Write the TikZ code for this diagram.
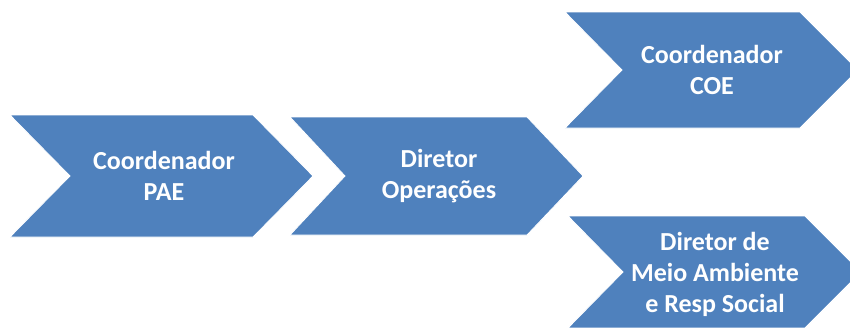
\documentclass[tikz,border=0pt]{standalone}
\usepackage{fontspec}
\setmainfont{Carlito}
\definecolor{chevblue}{HTML}{4F81BD}
\begin{document}
\begin{tikzpicture}[x=1pt,y=-1pt,
  chevfill/.style={fill=chevblue,draw=white,line width=0.8pt,line join=miter},
  chevtext/.style={text=white,font=\bfseries\fontsize{26}{31}\selectfont,align=center,inner sep=0pt}]
\useasboundingbox (0,0) rectangle (850,327);
\begin{scope}
\clip (0,0) rectangle (850,327);
\fill[chevfill] (10,115) -- (253,115) -- (313,176) -- (253,237) -- (10,237) -- (70,176) -- cycle;
\fill[chevfill] (290,117) -- (527,117) -- (583,176) -- (527,235) -- (290,235) -- (345,176) -- cycle;
\fill[chevfill] (565,12) -- (800,12) -- (858,70) -- (800,128) -- (565,128) -- (622,70) -- cycle;
\fill[chevfill] (568,216) -- (805,216) -- (861,272) -- (805,328) -- (568,328) -- (623,272) -- cycle;
\end{scope}
\node[chevtext] (c1) at (164,176) {Coordenador\\PAE};
\node[chevtext] (c2) at (439,176) {Diretor\\Operações};
\node[chevtext] (c3) at (712,70) {Coordenador\\COE};
\node[chevtext] (c4) at (715,274) {Diretor de\\Meio Ambiente\\e Resp Social};
\end{tikzpicture}
\end{document}
